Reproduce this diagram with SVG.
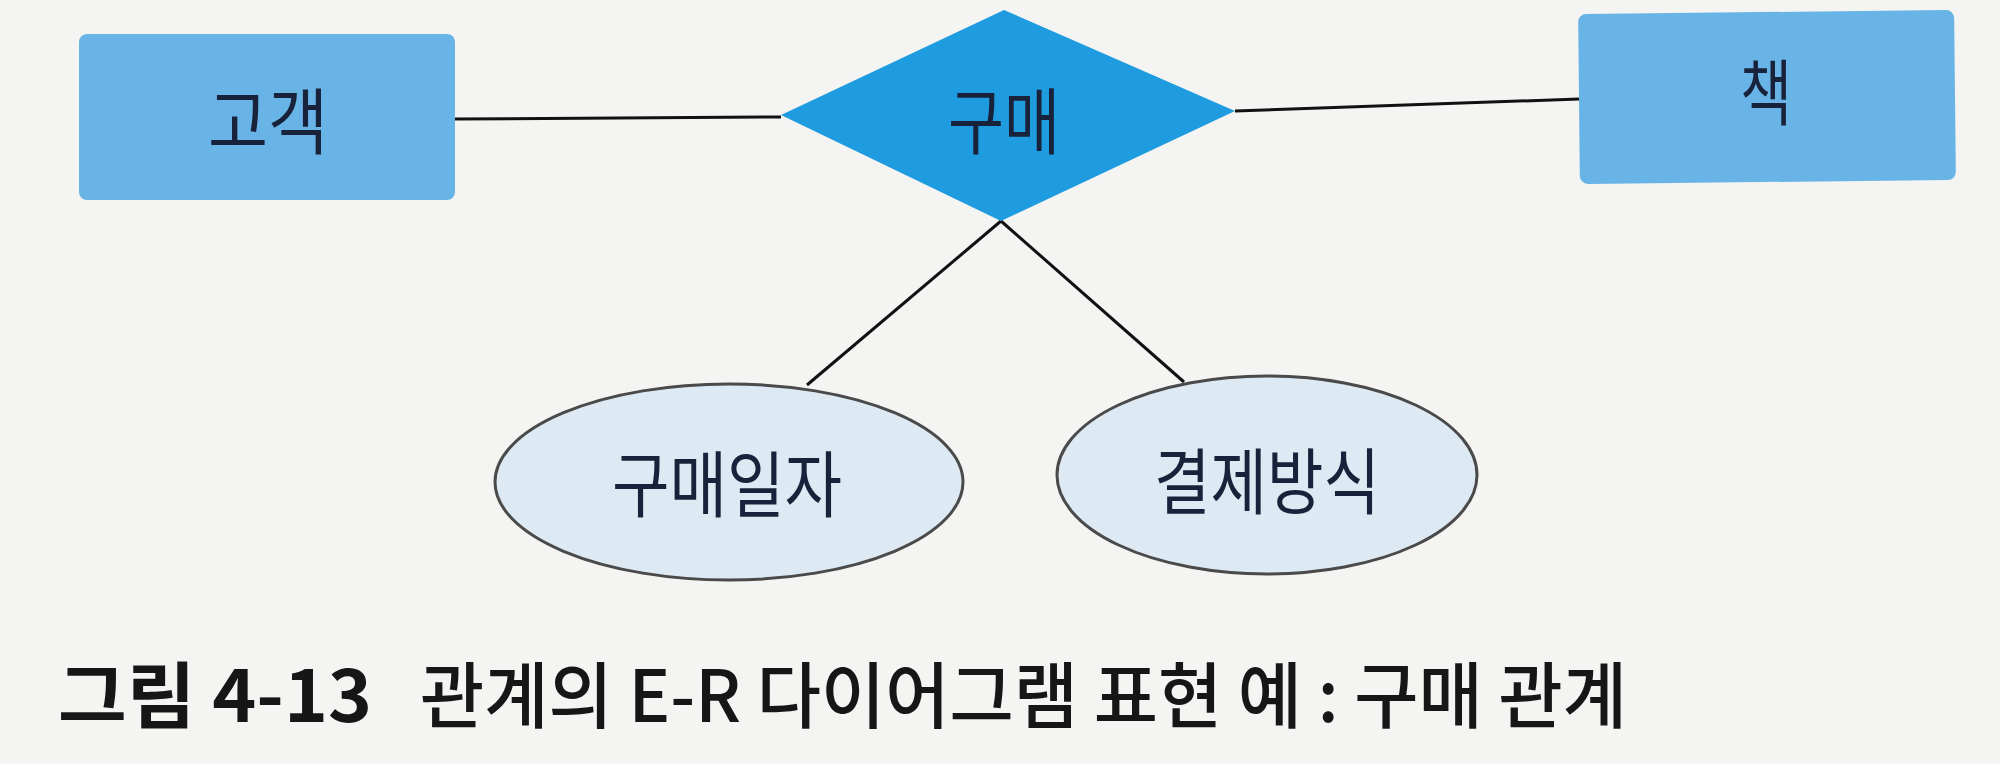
<svg xmlns="http://www.w3.org/2000/svg" width="2000" height="764" viewBox="0 0 2000 764">
<style>
.entity{fill:#69b4e7;}
.rel{fill:#1f9be0;}
.attr{fill:#dde9f3;stroke:#4a4a4a;stroke-width:3;}
.lbl{font-family:"Noto Sans CJK KR","Noto Sans",sans-serif;font-size:72px;font-weight:400;fill:#18223a;text-anchor:middle;}
.conn line{stroke:#111;stroke-width:3;}
.cap{font-family:"Noto Sans CJK KR","Noto Sans",sans-serif;font-size:72px;fill:#161616;}
</style>
<rect width="2000" height="764" fill="#f4f4f2"/>
<g class="conn" id="connectors">
<line x1="455" y1="119" x2="781" y2="117"/>
<line x1="1235" y1="111" x2="1579" y2="99"/>
<line x1="1001" y1="221" x2="807" y2="385"/>
<line x1="1001" y1="221" x2="1184" y2="382"/>
</g>
<g id="node-customer">
<rect class="entity" x="79" y="34" width="376" height="166" rx="8"/>
<text class="lbl" x="268" y="148" textLength="120" lengthAdjust="spacingAndGlyphs">고객</text>
</g>
<g id="node-purchase">
<polygon class="rel" points="781,115 1004,10 1235,111 1001,221"/>
<text class="lbl" x="1004" y="148" textLength="112" lengthAdjust="spacingAndGlyphs">구매</text>
</g>
<g id="node-book">
<rect class="entity" x="1579" y="12" width="376" height="170" rx="8" transform="rotate(-0.6 1767 97)"/>
<text class="lbl" x="1766" y="119" textLength="52" lengthAdjust="spacingAndGlyphs">책</text>
</g>
<g id="node-date">
<ellipse class="attr" cx="729" cy="482" rx="234" ry="98"/>
<text class="lbl" x="727" y="511" textLength="230" lengthAdjust="spacingAndGlyphs">구매일자</text>
</g>
<g id="node-payment">
<ellipse class="attr" cx="1267" cy="475" rx="210" ry="99"/>
<text class="lbl" x="1267" y="508" textLength="226" lengthAdjust="spacingAndGlyphs">결제방식</text>
</g>
<g id="caption">
<text class="cap" x="58" y="722" font-weight="bold" textLength="314" lengthAdjust="spacingAndGlyphs">그림 4-13</text>
<text class="cap" x="420" y="722" font-weight="500" textLength="1207" lengthAdjust="spacingAndGlyphs">관계의 E-R 다이어그램 표현 예 : 구매 관계</text>
</g>
</svg>
